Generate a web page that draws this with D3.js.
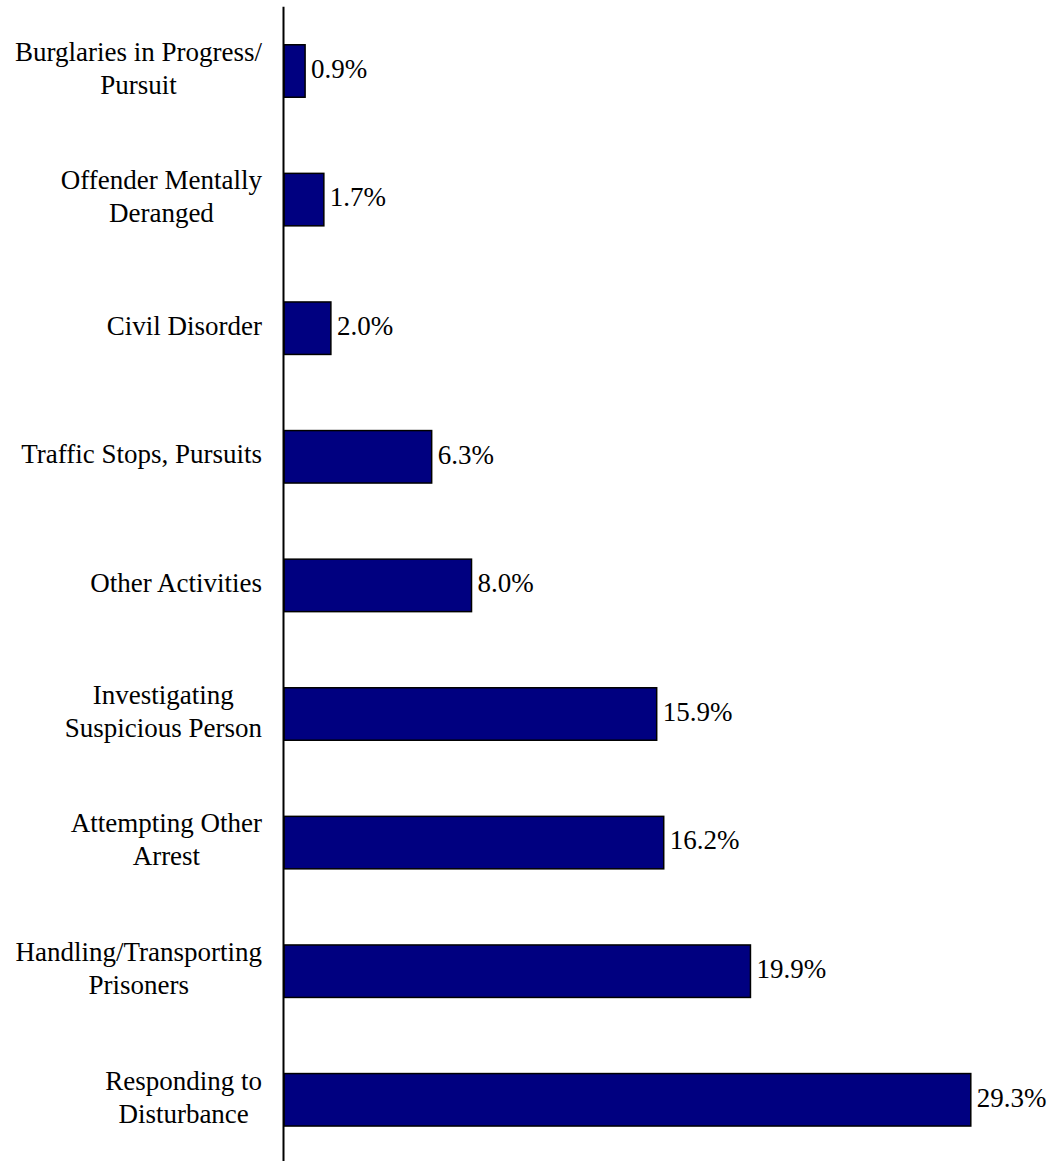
<!DOCTYPE html>
<html>
<head>
<meta charset="utf-8">
<script src="https://cdn.jsdelivr.net/npm/d3@7"></script>
<style>
  html, body { margin: 0; padding: 0; background: #fff; }
  svg { display: block; }
</style>
</head>
<body>
<svg id="chart" width="1055" height="1161"></svg>
<script>
const categories = [
  ["Burglaries in Progress/", "Pursuit"],
  ["Offender Mentally", "Deranged"],
  ["Civil Disorder"],
  ["Traffic Stops, Pursuits"],
  ["Other Activities"],
  ["Investigating", "Suspicious Person"],
  ["Attempting Other", "Arrest"],
  ["Handling/Transporting", "Prisoners"],
  ["Responding to", "Disturbance"]
];
const values = [0.9, 1.7, 2.0, 6.3, 8.0, 15.9, 16.2, 19.9, 29.3];
const valueLabels = ["0.9%", "1.7%", "2.0%", "6.3%", "8.0%", "15.9%", "16.2%", "19.9%", "29.3%"];

const FONT = "'Liberation Serif', 'Times New Roman', Times, serif";
const svg = d3.select("#chart");
const keys = categories.map((c, i) => "c" + i);

const x = d3.scaleLinear().domain([0, 30]).range([284, 987.2]);
const y = d3.scaleBand().domain(keys).range([6.7, 1164.1])
  .paddingInner(0.592).paddingOuter(0.296);

const fontSize = 27;
const lineH = 33;
const labelRight = 262;

// bars
svg.append("g").selectAll("rect")
  .data(values)
  .join("rect")
  .attr("x", x(0))
  .attr("y", (d, i) => y(keys[i]))
  .attr("width", d => x(d) - x(0))
  .attr("height", y.bandwidth())
  .attr("fill", "#000080")
  .attr("stroke", "#000")
  .attr("stroke-width", 1.5);

// axis line
svg.append("line")
  .attr("x1", 283.5).attr("x2", 283.5)
  .attr("y1", y.range()[0]).attr("y2", y.range()[1])
  .attr("stroke", "#000").attr("stroke-width", 2);

// category labels
const lg = svg.append("g").attr("font-family", FONT).attr("fill", "#000");
categories.forEach((lines, i) => {
  const cy = y(keys[i]) + y.bandwidth() / 2;
  const g = lg.append("g");
  const texts = lines.map((ln, j) => g.append("text")
    .attr("font-family", FONT)
    .attr("font-size", fontSize)
    .attr("text-anchor", "middle")
    .attr("y", cy + 6.3 + (j - (lines.length - 1) / 2) * lineH)
    .text(ln));
  const maxW = d3.max(texts, t => t.node().getComputedTextLength());
  texts.forEach(t => t.attr("x", labelRight - maxW / 2));
});

// value labels
svg.append("g").attr("font-family", FONT).attr("fill", "#000")
  .selectAll("text")
  .data(values)
  .join("text")
  .attr("font-family", FONT)
  .attr("font-size", fontSize)
  .attr("x", d => x(d) + 6)
  .attr("y", (d, i) => y(keys[i]) + y.bandwidth() / 2 + 6.8)
  .text((d, i) => valueLabels[i]);
</script>
</body>
</html>
